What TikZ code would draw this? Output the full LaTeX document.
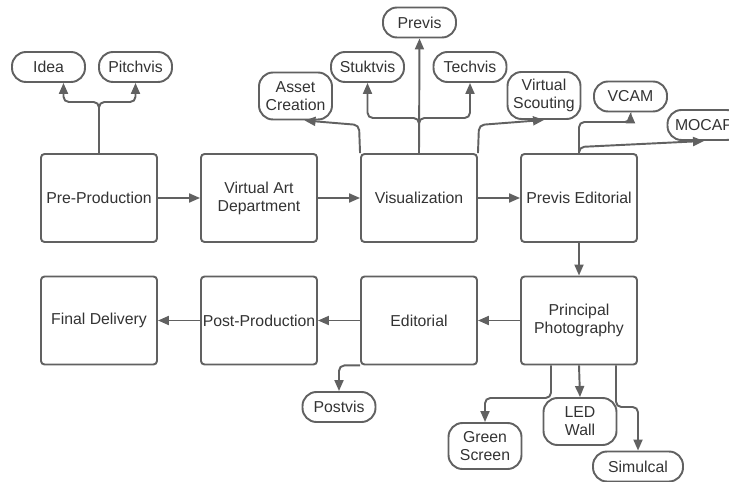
\documentclass[tikz,border=0pt]{standalone}
\usepackage{fontspec}
\setmainfont{Liberation Sans}
\colorlet{LineaFlujo}{black!62}
\colorlet{TextoFlujo}{black!80}
\usetikzlibrary{arrows.meta, calc}

\begin{document}
\begin{tikzpicture}[x=0.02cm, y=-0.02cm,
    etapa/.style={draw=LineaFlujo, line width=1.1pt, rounded corners=2pt,
        minimum width=2.32cm, minimum height=1.76cm, inner sep=1pt,
        align=center, text=TextoFlujo, font=\fontsize{9}{10.2}\selectfont},
    pildora/.style={draw=LineaFlujo, line width=1.1pt, rounded corners=0.28cm,
        minimum width=1.46cm, minimum height=0.6cm, inner sep=1pt,
        align=center, text=TextoFlujo, font=\fontsize{9}{10.2}\selectfont},
    flecha/.style={draw=LineaFlujo, line width=1.1pt, rounded corners=3pt,
        -{Triangle[length=0.22cm, width=0.18cm]}}]

\useasboundingbox (0,0) rectangle (729,482);
\clip (0,0) rectangle (729,482);

% Etapas principales
\node[etapa] (pre)   at (99,198)    {Pre-Production};
\node[etapa] (vad)   at (259,198)   {Virtual Art\\Department};
\node[etapa] (vis)   at (419,198)   {Visualization};
\node[etapa] (ped)   at (579,198)   {Previs Editorial};
\node[etapa] (final) at (99,320.5)  {Final Delivery};
\node[etapa] (post)  at (259,320.5) {Post-Production};
\node[etapa] (edit)  at (419,320.5) {Editorial};
\node[etapa] (pp)    at (579,320.5) {Principal\\Photography};

% Tareas secundarias
\node[pildora] (idea)    at (48.5,67)   {Idea};
\node[pildora] (pitch)   at (135.5,67)  {Pitchvis};
\node[pildora, minimum height=0.94cm] (asset) at (295.5,96) {Asset\\Creation};
\node[pildora] (stuk)    at (367.5,67)  {Stuktvis};
\node[pildora] (previs)  at (419.5,22.5) {Previs};
\node[pildora] (tech)    at (470,67)    {Techvis};
\node[pildora, minimum height=0.94cm] (vscout) at (544,95.5) {Virtual\\Scouting};
\node[pildora] (vcam)    at (630.5,96.5) {VCAM};
\node[pildora] (mocap)   at (704,125)   {MOCAP};
\node[pildora] (postvis) at (339,407)   {Postvis};
\node[pildora, minimum height=0.92cm] (green) at (485,446) {Green\\Screen};
\node[pildora, minimum height=0.94cm] (led)   at (580,421.5) {LED\\Wall};
\node[pildora, minimum width=1.8cm] (simul)   at (638,466.5) {Simulcal};

% Flujo principal
\draw[flecha] (pre) -- (vad);
\draw[flecha] (vad) -- (vis);
\draw[flecha] (vis) -- (ped);
\draw[flecha] (ped) -- (pp);
\draw[flecha] (pp) -- (edit);
\draw[flecha] (edit) -- (post);
\draw[flecha] (post) -- (final);

% Ramas hacia las tareas
\draw[flecha] (pre.north) -- (99,102) -| ([xshift=0.3cm]idea.south);
\draw[flecha] (pre.north) -- (99,102) -| (pitch.south);
\draw[flecha] (vis.north) -- (previs.south);
\draw[flecha] (vis.north) -- (419,118) -| (stuk.south);
\draw[flecha] (vis.north) -- (419,118) -| (tech.south);
\draw[flecha] (vis.north west) -- (359,125) -- ([xshift=0.18cm]asset.south);
\draw[flecha] (vis.north east) -- (479,125) -- (vscout.south);
\draw[flecha] (ped.north) -- (579,122) -| (vcam.south);
\draw[flecha] (ped.north) -- (579,147) -- (mocap.south);
\draw[flecha] (edit.south west) -| (postvis.north);
\draw[flecha] ([xshift=-0.56cm]pp.south) -- (551,398) -| (green.north);
\draw[flecha] (pp.south) -- (led.north);
\draw[flecha] ([xshift=0.74cm]pp.south) -- (616,407) -| (simul.north);

\end{tikzpicture}
\end{document}
